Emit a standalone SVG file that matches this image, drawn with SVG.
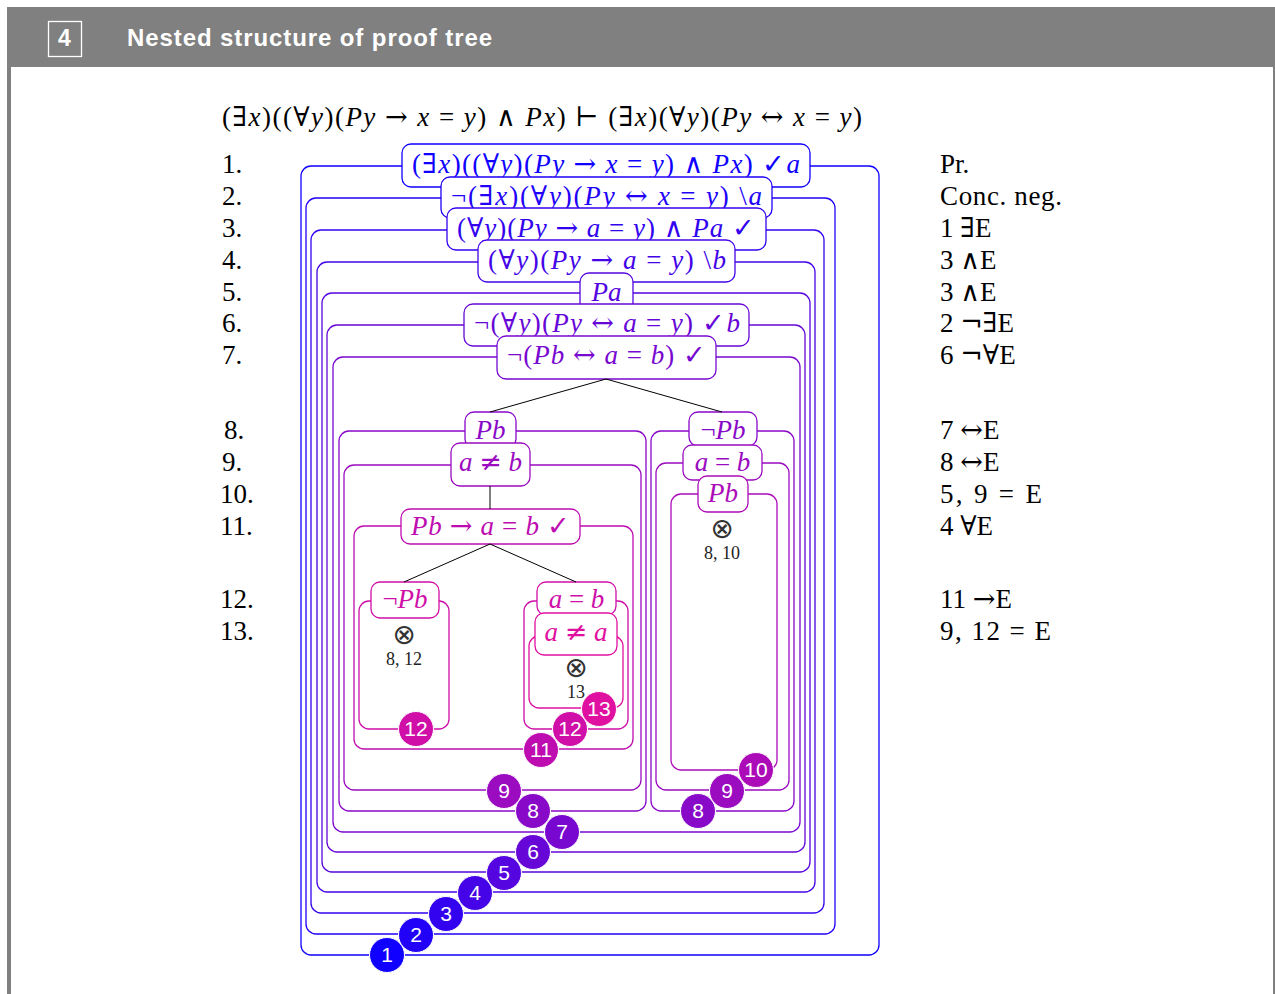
<svg xmlns="http://www.w3.org/2000/svg" width="1275" height="994" viewBox="0 0 1275 994">
<style>
.m{font-family:"Liberation Serif","DejaVu Serif",serif;font-size:27px}
.i{font-style:italic}
.y{font-family:"DejaVu Serif",serif;font-style:normal}
.mid{text-anchor:middle}
.nb{fill:#fff;stroke-width:1.3}
.fr{fill:none;stroke-width:1.3}
.cc{stroke:#fff;stroke-width:1}
.cn{font-family:"Liberation Sans","DejaVu Sans",sans-serif;font-size:21px;fill:#fff;text-anchor:middle}
.ot{font-family:"DejaVu Sans",sans-serif;font-size:28px;fill:#333;text-anchor:middle}
.ref{font-family:"Liberation Serif","DejaVu Serif",serif;font-size:18px;fill:#222;text-anchor:middle}
.edge{stroke:#000;stroke-width:1;fill:none}
.k{fill:#000}
.s1{stroke:#1000ff}.f1{fill:#1000ff}
.s2{stroke:#2101f7}.f2{fill:#2101f7}
.s3{stroke:#3303ef}.f3{fill:#3303ef}
.s4{stroke:#4404e7}.f4{fill:#4404e7}
.s5{stroke:#5505df}.f5{fill:#5505df}
.s6{stroke:#6707d7}.f6{fill:#6707d7}
.s7{stroke:#7808d0}.f7{fill:#7808d0}
.s8{stroke:#8909c8}.f8{fill:#8909c8}
.s9{stroke:#9b0bc0}.f9{fill:#9b0bc0}
.s10{stroke:#ac0cb8}.f10{fill:#ac0cb8}
.s11{stroke:#bd0db0}.f11{fill:#bd0db0}
.s12{stroke:#cf0fa8}.f12{fill:#cf0fa8}
.s13{stroke:#e010a0}.f13{fill:#e010a0}
</style>
<rect x="0" y="0" width="1275" height="994" fill="#fff"/>
<g id="page">
<rect x="7" y="7" width="1268" height="60" fill="#808080"/>
<rect x="7" y="67" width="4" height="927" fill="#808080"/>
<rect x="1273" y="67" width="2" height="927" fill="#808080"/>
<rect x="48.5" y="21.5" width="33" height="35" fill="none" stroke="#fff" stroke-width="1.3"/>
<text x="64.5" y="46" font-family="Liberation Sans,DejaVu Sans,sans-serif" font-size="23" font-weight="bold" fill="#fff" text-anchor="middle">4</text>
<text x="127" y="46" font-family="Liberation Sans,DejaVu Sans,sans-serif" font-size="24" font-weight="bold" fill="#fff" textLength="365">Nested structure of proof tree</text>
</g>
<g id="sequent">
<text class="m k" x="222" y="126" textLength="640">(<tspan class="y">∃</tspan><tspan class="i">x</tspan>)((<tspan class="y">∀</tspan><tspan class="i">y</tspan>)(<tspan class="i">Py</tspan> <tspan class="y">→</tspan> <tspan class="i">x</tspan> = <tspan class="i">y</tspan>) <tspan class="y">∧</tspan> <tspan class="i">Px</tspan>) <tspan class="y">⊢</tspan> (<tspan class="y">∃</tspan><tspan class="i">x</tspan>)(<tspan class="y">∀</tspan><tspan class="i">y</tspan>)(<tspan class="i">Py</tspan> <tspan class="y">↔</tspan> <tspan class="i">x</tspan> = <tspan class="i">y</tspan>)</text>
</g>
<g id="linenumbers" class="m k">
<text x="222" y="173">1.</text>
<text x="222" y="205">2.</text>
<text x="222" y="237">3.</text>
<text x="222" y="269">4.</text>
<text x="222" y="301">5.</text>
<text x="222" y="332">6.</text>
<text x="222" y="364">7.</text>
<text x="224" y="439">8.</text>
<text x="222" y="471">9.</text>
<text x="220" y="503">10.</text>
<text x="220" y="535">11.</text>
<text x="220" y="608">12.</text>
<text x="220" y="640">13.</text>
</g>
<g id="justifications" class="m k">
<text x="940" y="173">Pr.</text>
<text x="940" y="205" textLength="122">Conc. neg.</text>
<text x="940" y="237">1 <tspan class="y">∃</tspan>E</text>
<text x="940" y="269">3 <tspan class="y">∧</tspan>E</text>
<text x="940" y="301">3 <tspan class="y">∧</tspan>E</text>
<text x="940" y="332">2 <tspan class="y">¬∃</tspan>E</text>
<text x="940" y="364">6 <tspan class="y">¬∀</tspan>E</text>
<text x="940" y="439">7 <tspan class="y">↔</tspan>E</text>
<text x="940" y="471">8 <tspan class="y">↔</tspan>E</text>
<text x="940" y="503" textLength="102">5, 9 = E</text>
<text x="940" y="535">4 <tspan class="y">∀</tspan>E</text>
<text x="940" y="608">11 <tspan class="y">→</tspan>E</text>
<text x="940" y="640" textLength="111">9, 12 = E</text>
</g>
<g id="node1">
<rect class="fr s1" x="301" y="166" width="578" height="789" rx="10"/>
<rect class="nb s1" x="402" y="144" width="408" height="43" rx="9"/>
<text class="m f1" x="412" y="173" textLength="388">(<tspan class="y">∃</tspan><tspan class="i">x</tspan>)((<tspan class="y">∀</tspan><tspan class="i">y</tspan>)(<tspan class="i">Py</tspan> <tspan class="y">→</tspan> <tspan class="i">x</tspan> = <tspan class="i">y</tspan>) <tspan class="y">∧</tspan> <tspan class="i">Px</tspan>) ✓<tspan class="i">a</tspan></text>
</g>
<g id="node2">
<rect class="fr s2" x="306" y="198" width="529" height="736" rx="10"/>
<rect class="nb s2" x="441" y="177" width="331" height="41" rx="9"/>
<text class="m f2" x="451" y="205" textLength="311">¬(<tspan class="y">∃</tspan><tspan class="i">x</tspan>)(<tspan class="y">∀</tspan><tspan class="i">y</tspan>)(<tspan class="i">Py</tspan> <tspan class="y">↔</tspan> <tspan class="i">x</tspan> = <tspan class="i">y</tspan>) \<tspan class="i">a</tspan></text>
</g>
<g id="node3">
<rect class="fr s3" x="311" y="230" width="513" height="683" rx="10"/>
<rect class="nb s3" x="447" y="208" width="319" height="42" rx="9"/>
<text class="m f3" x="457" y="237" textLength="298">(<tspan class="y">∀</tspan><tspan class="i">y</tspan>)(<tspan class="i">Py</tspan> <tspan class="y">→</tspan> <tspan class="i">a</tspan> = <tspan class="i">y</tspan>) <tspan class="y">∧</tspan> <tspan class="i">Pa</tspan> ✓</text>
</g>
<g id="node4">
<rect class="fr s4" x="317" y="262" width="498" height="630" rx="10"/>
<rect class="nb s4" x="478" y="240" width="257" height="42" rx="9"/>
<text class="m f4" x="488" y="269" textLength="238">(<tspan class="y">∀</tspan><tspan class="i">y</tspan>)(<tspan class="i">Py</tspan> <tspan class="y">→</tspan> <tspan class="i">a</tspan> = <tspan class="i">y</tspan>) \<tspan class="i">b</tspan></text>
</g>
<g id="node5">
<rect class="fr s5" x="322" y="293" width="488" height="579" rx="10"/>
<rect class="nb s5" x="580" y="273" width="53" height="39" rx="9"/>
<text class="m f5 i mid" x="606.5" y="301">Pa</text>
</g>
<g id="node6">
<rect class="fr s6" x="327" y="325" width="478" height="527" rx="10"/>
<rect class="nb s6" x="464" y="304" width="285" height="42" rx="9"/>
<text class="m f6" x="474" y="332" textLength="266">¬(<tspan class="y">∀</tspan><tspan class="i">y</tspan>)(<tspan class="i">Py</tspan> <tspan class="y">↔</tspan> <tspan class="i">a</tspan> = <tspan class="i">y</tspan>) ✓<tspan class="i">b</tspan></text>
</g>
<g id="node7">
<rect class="fr s7" x="333" y="357" width="467" height="475" rx="10"/>
<rect class="nb s7" x="497" y="336" width="219" height="43" rx="9"/>
<text class="m f7" x="507" y="364" textLength="199">¬(<tspan class="i">Pb</tspan> <tspan class="y">↔</tspan> <tspan class="i">a</tspan> = <tspan class="i">b</tspan>) ✓</text>
</g>
<g id="node8L">
<rect class="fr s8" x="339" y="431" width="307" height="380" rx="10"/>
<rect class="nb s8" x="465" y="412" width="51" height="36" rx="9"/>
<text class="m f8 i mid" x="490.5" y="439">Pb</text>
</g>
<g id="node9L">
<rect class="fr s9" x="344" y="465" width="297" height="325" rx="10"/>
<rect class="nb s9" x="451" y="443" width="79" height="43" rx="9"/>
<text class="m f9 mid" x="490.5" y="471"><tspan class="i">a</tspan> <tspan class="y">≠</tspan> <tspan class="i">b</tspan></text>
</g>
<g id="node11">
<rect class="fr s11" x="354" y="526" width="279" height="223" rx="10"/>
<rect class="nb s11" x="401" y="509" width="179" height="35" rx="9"/>
<text class="m f11" x="411" y="535" textLength="159"><tspan class="i">Pb</tspan> <tspan class="y">→</tspan> <tspan class="i">a</tspan> = <tspan class="i">b</tspan> ✓</text>
</g>
<g id="node12L">
<rect class="fr s12" x="359" y="601" width="90" height="128" rx="10"/>
<rect class="nb s12" x="371" y="582" width="68" height="36" rx="9"/>
<text class="m f12 mid" x="405" y="608">¬<tspan class="i">Pb</tspan></text>
<text class="ot" x="404" y="644">⊗</text>
<text class="ref" x="404" y="665">8, 12</text>
</g>
<g id="node12R">
<rect class="fr s12" x="524" y="601" width="104" height="128" rx="10"/>
<rect class="nb s12" x="537" y="582" width="79" height="33" rx="9"/>
<text class="m f12 mid" x="576.5" y="608"><tspan class="i">a</tspan> = <tspan class="i">b</tspan></text>
</g>
<g id="node13">
<rect class="fr s13" x="529" y="636" width="94" height="72" rx="10"/>
<rect class="nb s13" x="535" y="613" width="82" height="42" rx="9"/>
<text class="m f13 mid" x="576" y="641"><tspan class="i">a</tspan> <tspan class="y">≠</tspan> <tspan class="i">a</tspan></text>
<text class="ot" x="576" y="677">⊗</text>
<text class="ref" x="576" y="698">13</text>
</g>
<g id="node8R">
<rect class="fr s8" x="651" y="431" width="143" height="380" rx="10"/>
<rect class="nb s8" x="689" y="412" width="68" height="34" rx="9"/>
<text class="m f8 mid" x="723" y="439">¬<tspan class="i">Pb</tspan></text>
</g>
<g id="node9R">
<rect class="fr s9" x="656" y="463" width="133" height="327" rx="10"/>
<rect class="nb s9" x="683" y="445" width="79" height="35" rx="9"/>
<text class="m f9 mid" x="722.5" y="471"><tspan class="i">a</tspan> = <tspan class="i">b</tspan></text>
</g>
<g id="node10R">
<rect class="fr s10" x="671" y="494" width="106" height="276" rx="10"/>
<rect class="nb s10" x="698" y="476" width="50" height="36" rx="9"/>
<text class="m f10 i mid" x="723" y="502">Pb</text>
<text class="ot" x="722" y="538">⊗</text>
<text class="ref" x="722" y="559">8, 10</text>
</g>
<g id="connectors" class="edge">
<line x1="606" y1="379" x2="490" y2="412"/>
<line x1="606" y1="379" x2="722" y2="412"/>
<line x1="490" y1="486" x2="490" y2="509"/>
<line x1="490" y1="544" x2="404" y2="582"/>
<line x1="490" y1="544" x2="576" y2="582"/>
</g>
<g id="badges">
<circle class="f1 cc" cx="387" cy="955" r="17.5"/><text class="cn" x="387" y="962">1</text>
<circle class="f2 cc" cx="416" cy="935" r="17.5"/><text class="cn" x="416" y="942">2</text>
<circle class="f3 cc" cx="446" cy="914" r="17.5"/><text class="cn" x="446" y="921">3</text>
<circle class="f4 cc" cx="475" cy="893" r="17.5"/><text class="cn" x="475" y="900">4</text>
<circle class="f5 cc" cx="504" cy="873" r="17.5"/><text class="cn" x="504" y="880">5</text>
<circle class="f6 cc" cx="533" cy="852" r="17.5"/><text class="cn" x="533" y="859">6</text>
<circle class="f7 cc" cx="562" cy="832" r="17.5"/><text class="cn" x="562" y="839">7</text>
<circle class="f8 cc" cx="533" cy="811" r="17.5"/><text class="cn" x="533" y="818">8</text>
<circle class="f9 cc" cx="504" cy="791" r="17.5"/><text class="cn" x="504" y="798">9</text>
<circle class="f8 cc" cx="698" cy="811" r="17.5"/><text class="cn" x="698" y="818">8</text>
<circle class="f9 cc" cx="727" cy="791" r="17.5"/><text class="cn" x="727" y="798">9</text>
<circle class="f10 cc" cx="756" cy="770" r="17.5"/><text class="cn" x="756" y="777">10</text>
<circle class="f11 cc" cx="541" cy="750" r="17.5"/><text class="cn" x="541" y="757">11</text>
<circle class="f12 cc" cx="416" cy="729" r="17.5"/><text class="cn" x="416" y="736">12</text>
<circle class="f12 cc" cx="570" cy="729" r="17.5"/><text class="cn" x="570" y="736">12</text>
<circle class="f13 cc" cx="599" cy="709" r="17.5"/><text class="cn" x="599" y="716">13</text>
</g>
</svg>
